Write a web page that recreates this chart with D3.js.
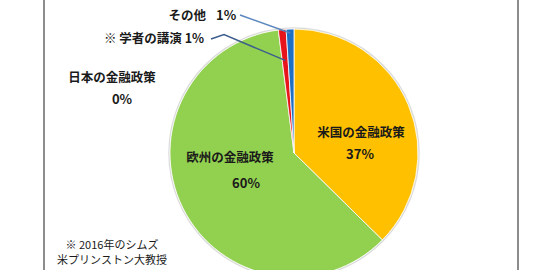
<!DOCTYPE html>
<html>
<head>
<meta charset="utf-8">
<script src="https://cdn.jsdelivr.net/npm/d3@7"></script>
<style>
  body { margin: 0; background: #fff; }
  text { font-family: "Noto Sans CJK JP", sans-serif; fill: #1a1a1a; }
</style>
</head>
<body>
<svg id="chart"></svg>
<script>
// data
const categories = ['米国の金融政策', '欧州の金融政策', '日本の金融政策', '※ 学者の講演', 'その他'];
const values = [37, 60, 0, 1, 1];
const pctLabels = ['37%', '60%', '0%', '1%', '1%'];
const noteLines = ['※ 2016年のシムズ', '米プリンストン大教授'];

const colors = ['#FFC000', '#92D050', '#7F7F7F', '#E8141C', '#1F6FC5'];

let width = 550;
let height = 270;
let cx = 294, cy = 153, radius = 124;

const svg = d3.select('#chart').attr('width', width).attr('height', height);

// frame side lines
svg.append('line').attr('x1', 44).attr('x2', 44).attr('y1', 0).attr('y2', height)
  .attr('stroke', '#8c8c8c').attr('stroke-width', 2);
svg.append('line').attr('x1', 518).attr('x2', 518).attr('y1', 0).attr('y2', height)
  .attr('stroke', '#8c8c8c').attr('stroke-width', 2);

const pie = d3.pie().sort(null).value(d => d);
const arcs = pie(values);
const arc = d3.arc().innerRadius(0).outerRadius(radius);

const g = svg.append('g').attr('transform', `translate(${cx},${cy})`);

// soft rim
g.append('circle').attr('r', radius + 1).attr('fill', 'none')
  .attr('stroke', '#dcdcdc').attr('stroke-width', 1.5);

g.selectAll('path.slice').data(arcs).enter().append('path')
  .attr('class', 'slice')
  .attr('d', arc)
  .attr('fill', (d, i) => colors[i])
  .attr('stroke', '#fff')
  .attr('stroke-width', (d) => d.value > 0 ? 0.8 : 0);

// point on a slice's mid angle at radius r (absolute coords)
const midPoint = (d, r) => {
  const a = (d.startAngle + d.endAngle) / 2;
  return [cx + Math.sin(a) * r, cy - Math.cos(a) * r];
};

// leader lines
const blueEnd = midPoint(arcs[4], 120);
const redEnd = midPoint(arcs[3], 93);
svg.append('polyline')
  .attr('points', [[240, 15], blueEnd].join(' '))
  .attr('fill', 'none').attr('stroke', '#5A86BD').attr('stroke-width', 1.5);
svg.append('polyline')
  .attr('points', [[211, 39], [224, 34.5], redEnd].join(' '))
  .attr('fill', 'none').attr('stroke', '#3D5E8C').attr('stroke-width', 1.5);

const label = (x, y, txt, size, weight, anchor) => {
  svg.append('text').attr('x', x).attr('y', y)
    .attr('text-anchor', anchor || 'middle')
    .attr('dominant-baseline', 'central')
    .style('font-size', size + 'px').style('font-weight', weight)
    .text(txt);
};

// inside labels
label(361, 131, categories[0], 12.5, 'bold');
label(360, 153, pctLabels[0], 13, 'bold');
label(230, 156, categories[1], 12.5, 'bold');
label(246, 182, pctLabels[1], 13, 'bold');

// outside labels
label(112, 76, categories[2], 12.5, 'bold');
label(122, 98, pctLabels[2], 13, 'bold');
label(206, 14, categories[4], 12.5, 'bold', 'end');
label(216, 14, pctLabels[4], 13, 'bold', 'start');
label(104, 37, categories[3] + ' ' + pctLabels[3], 12.5, 'bold', 'start');

// note
noteLines.forEach((t, i) => label(112, 244 + i * 15, t, 11, 'normal'));
</script>
</body>
</html>
